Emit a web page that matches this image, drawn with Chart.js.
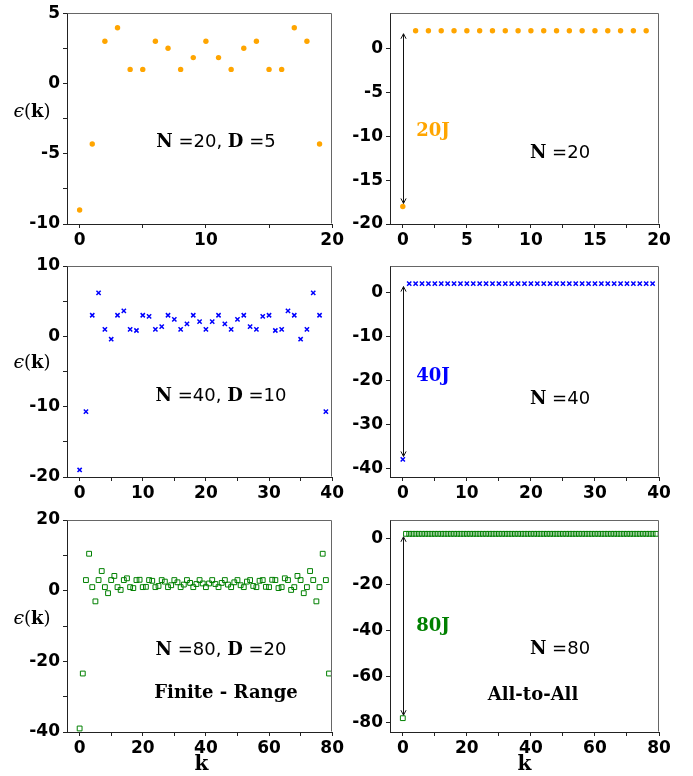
<!DOCTYPE html>
<html>
<head>
<meta charset="utf-8">
<title>Single-particle spectrum ε(k)</title>
<script src="https://cdn.jsdelivr.net/npm/chart.js@4.4.1/dist/chart.umd.min.js"></script>
<style>
  html, body { margin: 0; padding: 0; background: #ffffff; }
  #figure { position: relative; width: 693px; height: 776px; overflow: hidden; background: #ffffff; }
  #figure canvas { position: absolute; }
</style>
</head>
<body>
<div id="figure"></div>
<script>
// ---- spectrum values ε(k) ----
// finite-range coupling, N = 20, D = 5
const epsFinite20 = [-9.0, -4.31, 3.0, 3.96, 1.0, 1.0, 3.0, 2.51, 1.0, 1.84,
                      3.0, 1.84, 1.0, 2.51, 3.0, 1.0, 1.0, 3.96, 3.0, -4.31];
// finite-range coupling, N = 40, D = 10
const epsFinite40 = [-19.0, -10.71, 3.0, 6.17, 1.0, -0.41, 3.0, 3.63, 1.0, 0.83,
                      3.0, 2.85, 1.0, 1.39, 3.0, 2.41, 1.0, 1.76, 3.0, 2.08,
                      1.0, 2.08, 3.0, 1.76, 1.0, 2.41, 3.0, 1.39, 1.0, 2.85,
                      3.0, 0.83, 1.0, 3.63, 3.0, -0.41, 1.0, 6.17, 3.0, -10.71];
// finite-range coupling, N = 80, D = 20
const epsFinite80 = [-39.0, -23.45, 3.0, 10.45, 1.0, -3.03, 3.0, 5.55, 1.0, -0.71,
                      3.0, 4.17, 1.0, 0.21, 3.0, 3.50, 1.0, 0.73, 3.0, 3.08,
                      1.0, 1.08, 3.0, 2.79, 1.0, 1.33, 3.0, 2.56, 1.0, 1.54,
                      3.0, 2.37, 1.0, 1.72, 3.0, 2.20, 1.0, 1.88, 3.0, 2.04,
                      1.0, 2.04, 3.0, 1.88, 1.0, 2.20, 3.0, 1.72, 1.0, 2.37,
                      3.0, 1.54, 1.0, 2.56, 3.0, 1.33, 1.0, 2.79, 3.0, 1.08,
                      1.0, 3.08, 3.0, 0.73, 1.0, 3.50, 3.0, 0.21, 1.0, 4.17,
                      3.0, -0.71, 1.0, 5.55, 3.0, -3.03, 1.0, 10.45, 3.0, -23.45];
// all-to-all coupling
const epsAll20 = [-18, 2, 2, 2, 2, 2, 2, 2, 2, 2, 2, 2, 2, 2, 2, 2, 2, 2, 2, 2];
const epsAll40 = [-38, 2, 2, 2, 2, 2, 2, 2, 2, 2, 2, 2, 2, 2, 2, 2, 2, 2, 2, 2,
                    2, 2, 2, 2, 2, 2, 2, 2, 2, 2, 2, 2, 2, 2, 2, 2, 2, 2, 2, 2];
const epsAll80 = [-78, 2, 2, 2, 2, 2, 2, 2, 2, 2, 2, 2, 2, 2, 2, 2, 2, 2, 2, 2,
                    2, 2, 2, 2, 2, 2, 2, 2, 2, 2, 2, 2, 2, 2, 2, 2, 2, 2, 2, 2,
                    2, 2, 2, 2, 2, 2, 2, 2, 2, 2, 2, 2, 2, 2, 2, 2, 2, 2, 2, 2,
                    2, 2, 2, 2, 2, 2, 2, 2, 2, 2, 2, 2, 2, 2, 2, 2, 2, 2, 2, 2];

// momentum index k = 0 .. N-1
const k20 = epsAll20.map((_, i) => i);
const k40 = epsAll40.map((_, i) => i);
const k80 = epsAll80.map((_, i) => i);

// ---- tick marks (all) and the ones that carry a label ----
const xTicks20a = [0, 5, 10, 15, 20],            xLabels20a = [0, 10, 20];
const xTicks20b = [0, 2.5, 5, 7.5, 10, 12.5, 15, 17.5, 20], xLabels20b = [0, 5, 10, 15, 20];
const xTicks40 = [0, 5, 10, 15, 20, 25, 30, 35, 40], xLabels40 = [0, 10, 20, 30, 40];
const xTicks80 = [0, 10, 20, 30, 40, 50, 60, 70, 80], xLabels80 = [0, 20, 40, 60, 80];
const yTicksF20 = [-10, -7.5, -5, -2.5, 0, 2.5, 5], yLabelsF20 = [-10, -5, 0, 5];
const yTicksA20 = [-20, -15, -10, -5, 0],          yLabelsA20 = [-20, -15, -10, -5, 0];
const yTicksF40 = [-20, -15, -10, -5, 0, 5, 10],   yLabelsF40 = [-20, -10, 0, 10];
const yTicksA40 = [-40, -30, -20, -10, 0],         yLabelsA40 = [-40, -30, -20, -10, 0];
const yTicksF80 = [-40, -30, -20, -10, 0, 10, 20], yLabelsF80 = [-40, -20, 0, 20];
const yTicksA80 = [-80, -60, -40, -20, 0],         yLabelsA80 = [-80, -60, -40, -20, 0];

const SERIF = '"DejaVu Serif", serif';
const SANS = '"DejaVu Sans", sans-serif';
const ORANGE = '#FFA500', BLUE = '#0000FF', GREEN = '#008000';

// draws a run of differently-styled text pieces centred on (cx, cy)
function drawRich(ctx, parts, cx, cy, color) {
  const widths = parts.map(p => { ctx.font = p.f; return ctx.measureText(p.t).width; });
  let x = cx - widths.reduce((a, b) => a + b, 0) / 2;
  ctx.textAlign = 'left';
  ctx.textBaseline = 'alphabetic';
  parts.forEach((p, i) => {
    ctx.font = p.f;
    ctx.fillStyle = p.c || color || '#000';
    ctx.fillText(p.t, x, cy + (p.dy || 6.5));
    x += widths[i];
  });
}

function drawArrow(ctx, x, yTop, yBot) {
  const h = 5, w = 2.6;
  ctx.beginPath();
  ctx.moveTo(x, yTop); ctx.lineTo(x, yBot);
  ctx.moveTo(x - w, yTop + h); ctx.lineTo(x, yTop); ctx.lineTo(x + w, yTop + h);
  ctx.moveTo(x - w, yBot - h); ctx.lineTo(x, yBot); ctx.lineTo(x + w, yBot - h);
  ctx.stroke();
}

// frame, annotations, double arrow and the hand-placed axis titles
const decor = {
  id: 'decor',
  afterDraw(chart, args, o) {
    const { ctx, chartArea: a, scales } = chart;
    ctx.save();
    ctx.lineWidth = 1;
    ctx.strokeStyle = '#666';
    const L = Math.round(a.left) + 0.5, R = Math.round(a.right) - 0.5;
    const T = Math.round(a.top) + 0.5, B = Math.round(a.bottom) - 0.5;
    ctx.beginPath();
    ctx.moveTo(L, T); ctx.lineTo(R, T); ctx.lineTo(R, B);
    ctx.stroke();

    if (o.arrow) {
      ctx.strokeStyle = '#111';
      const x = Math.round(scales.x.getPixelForValue(o.arrow.at)) + 0.5;
      drawArrow(ctx, x,
        scales.y.getPixelForValue(o.arrow.from) + 3,
        scales.y.getPixelForValue(o.arrow.to) - 3);
    }
    (o.texts || []).forEach(t => drawRich(ctx, t.parts, t.x, t.y, t.color));
    ctx.restore();
  }
};

function axis(dir, min, max, ticks, labels, size) {
  return {
    type: 'linear', min, max,
    afterBuildTicks: s => { s.ticks = ticks.map(v => ({ value: v })); },
    afterFit: s => { if (dir === 'x') s.height = size; else s.width = size; },
    ticks: {
      autoSkip: false, maxRotation: 0, minRotation: 0,
      padding: dir === 'x' ? 2 : 3,
      color: '#000',
      font: { family: SANS, weight: 'bold', size: 17 },
      callback: v => labels.includes(v) ? String(v) : ''
    },
    grid: { drawOnChartArea: false, drawTicks: true, tickLength: 4, color: '#222', lineWidth: 1 },
    border: { display: true, color: '#222', width: 1 }
  };
}

const fig = document.getElementById('figure');

function panel(c) {
  const cv = document.createElement('canvas');
  cv.width = c.w; cv.height = c.h;
  cv.style.left = c.left + 'px'; cv.style.top = c.top + 'px';
  cv.style.width = c.w + 'px'; cv.style.height = c.h + 'px';
  fig.appendChild(cv);
  return new Chart(cv.getContext('2d'), {
    type: 'scatter',
    data: {
      datasets: [Object.assign({
        data: c.k.map((k, i) => ({ x: k, y: c.eps[i] })),
        showLine: false
      }, c.marker)]
    },
    options: {
      responsive: false, animation: false, devicePixelRatio: 1, events: [],
      layout: { padding: { left: 0, right: c.padR, top: c.padT, bottom: 0 } },
      plugins: { legend: { display: false }, tooltip: { enabled: false }, decor: c.decor },
      scales: {
        x: axis('x', c.x[0], c.x[1], c.xt, c.xl, c.xh),
        y: axis('y', c.y[0], c.y[1], c.yt, c.yl, c.yw)
      }
    },
    plugins: [decor]
  });
}

const dots = { pointStyle: 'circle', pointRadius: 2.7, pointBackgroundColor: ORANGE, pointBorderColor: ORANGE, pointBorderWidth: 0 };
const crosses = { pointStyle: 'crossRot', pointRadius: 3, pointBorderColor: BLUE, pointBackgroundColor: BLUE, pointBorderWidth: 1.5 };
const squares = { pointStyle: 'rect', pointRadius: 3.4, pointBorderColor: GREEN, pointBackgroundColor: 'rgba(0,0,0,0)', pointBorderWidth: 1 };

const fB = `bold 18px ${SERIF}`, fN = `18px ${SANS}`, fL = `bold 18px ${SERIF}`;
const epsLabel = (y) => ({ x: 32, y, parts: [
  { t: 'ϵ', f: `italic 19px ${SERIF}` }, { t: '(', f: `18px ${SERIF}` },
  { t: 'k', f: `bold 18px ${SERIF}` }, { t: ')', f: `18px ${SERIF}` }] });
const kLabel = (x) => ({ x, y: 263, parts: [{ t: 'k', f: `bold 20px ${SERIF}`, dy: 7 }] });

// row 1
panel({ left: 0, top: 0, w: 346, h: 250, padR: 10, padT: 12, xh: 26, yw: 67,
  k: k20, eps: epsFinite20, marker: dots, x: [-1, 20], y: [-10, 5],
  xt: xTicks20a, xl: xLabels20a, yt: yTicksF20, yl: yLabelsF20,
  decor: { texts: [epsLabel(110),
    { x: 216, y: 140, parts: [{ t: 'N', f: fB }, { t: ' =20, ', f: fN }, { t: 'D', f: fB }, { t: ' =5', f: fN }] }] } });

panel({ left: 346, top: 0, w: 347, h: 250, padR: 34, padT: 12, xh: 26, yw: 44,
  k: k20, eps: epsAll20, marker: dots, x: [-1, 20], y: [-20, 4],
  xt: xTicks20b, xl: xLabels20b, yt: yTicksA20, yl: yLabelsA20,
  decor: { arrow: { at: 0, from: epsAll20[1], to: epsAll20[0] }, texts: [
    { x: 87, y: 129, color: ORANGE, parts: [{ t: '20J', f: fL }] },
    { x: 214, y: 151, parts: [{ t: 'N', f: fB }, { t: ' =20', f: fN }] }] } });

// row 2
panel({ left: 0, top: 250, w: 346, h: 250, padR: 10, padT: 16, xh: 23, yw: 67,
  k: k40, eps: epsFinite40, marker: crosses, x: [-2, 40], y: [-20, 10],
  xt: xTicks40, xl: xLabels40, yt: yTicksF40, yl: yLabelsF40,
  decor: { texts: [epsLabel(111),
    { x: 221, y: 144, parts: [{ t: 'N', f: fB }, { t: ' =40, ', f: fN }, { t: 'D', f: fB }, { t: ' =10', f: fN }] }] } });

panel({ left: 346, top: 250, w: 347, h: 250, padR: 34, padT: 16, xh: 23, yw: 44,
  k: k40, eps: epsAll40, marker: crosses, x: [-2, 40], y: [-42, 6],
  xt: xTicks40, xl: xLabels40, yt: yTicksA40, yl: yLabelsA40,
  decor: { arrow: { at: 0, from: epsAll40[1], to: epsAll40[0] }, texts: [
    { x: 87, y: 124, color: BLUE, parts: [{ t: '40J', f: fL }] },
    { x: 214, y: 147, parts: [{ t: 'N', f: fB }, { t: ' =40', f: fN }] }] } });

// row 3
panel({ left: 0, top: 500, w: 346, h: 276, padR: 10, padT: 20, xh: 44, yw: 67,
  k: k80, eps: epsFinite80, marker: squares, x: [-4, 80], y: [-40, 20],
  xt: xTicks80, xl: xLabels80, yt: yTicksF80, yl: yLabelsF80,
  decor: { texts: [epsLabel(117), kLabel(201.5),
    { x: 221, y: 148, parts: [{ t: 'N', f: fB }, { t: ' =80, ', f: fN }, { t: 'D', f: fB }, { t: ' =20', f: fN }] },
    { x: 226, y: 191, parts: [{ t: 'Finite - Range', f: fL }] }] } });

panel({ left: 346, top: 500, w: 347, h: 276, padR: 34, padT: 20, xh: 44, yw: 44,
  k: k80, eps: epsAll80, marker: squares, x: [-4, 80], y: [-84, 8],
  xt: xTicks80, xl: xLabels80, yt: yTicksA80, yl: yLabelsA80,
  decor: { arrow: { at: 0, from: epsAll80[1], to: epsAll80[0] }, texts: [kLabel(178.5),
    { x: 87, y: 124, color: GREEN, parts: [{ t: '80J', f: fL }] },
    { x: 214, y: 147, parts: [{ t: 'N', f: fB }, { t: ' =80', f: fN }] },
    { x: 187, y: 193, parts: [{ t: 'All-to-All', f: fL }] }] } });
</script>
</body>
</html>
